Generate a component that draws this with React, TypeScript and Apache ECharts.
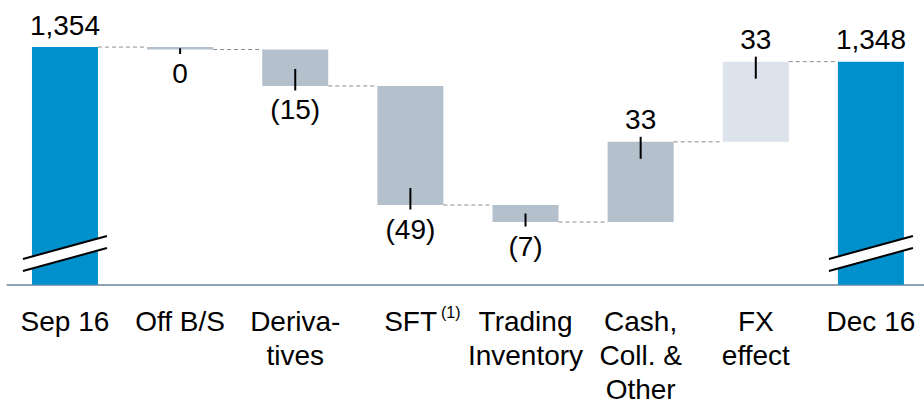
import React, { useEffect, useRef } from 'react';
import * as echarts from 'echarts';

const categories = [
  'Sep 16',
  'Off B/S',
  'Deriva-\ntives',
  'SFT',
  'Trading\nInventory',
  'Cash,\nColl. &\nOther',
  'FX\neffect',
  'Dec 16',
];
const valueLabels = ['1,354', '0', '(15)', '(49)', '(7)', '33', '33', '1,348'];
const startTotal = 1354;
const deltas = [-1, -15, -49, -7, 33, 33];
const endTotal = 1348;
const barColors = ['#0091cd', '#b4c0cc', '#b4c0cc', '#b4c0cc', '#b4c0cc', '#b4c0cc', '#dce3ec', '#0091cd'];

const Y_MIN = 1256.2;
const Y_MAX = 1360;
const BAR_W = 66;
const FONT = "'Liberation Sans', Arial, sans-serif";

const bottoms: number[] = [0];
const tops: number[] = [startTotal];
const levels: number[] = [startTotal];
{
  let run = startTotal;
  deltas.forEach((d) => {
    const next = run + d;
    bottoms.push(Math.min(run, next));
    tops.push(Math.max(run, next));
    levels.push(next);
    run = next;
  });
  bottoms.push(0);
  tops.push(endTotal);
  levels.push(endTotal);
}

export default function App() {
  const ref = useRef<HTMLDivElement>(null);
  useEffect(() => {
    if (!ref.current) return;
    const chart = echarts.init(ref.current, undefined, { renderer: 'svg' });
    const n = categories.length;
    const half = BAR_W / 2;
    const option: any = {
      animation: false,
      grid: { left: 7.4, top: 32.5, width: 921.1, height: 252.2, containLabel: false, outerBoundsMode: 'none' },
      xAxis: {
        type: 'category',
        data: categories,
        axisTick: { show: false },
        axisLine: { lineStyle: { color: '#8fa1b4', width: 2 } },
        axisLabel: {
          interval: 0,
          margin: 20,
          fontSize: 28,
          lineHeight: 34,
          color: '#000',
          fontFamily: FONT,
          formatter: (v: string) => (v === 'SFT' ? '{pad|\u00a0}SFT{sup|(1)}' : v),
          rich: {
            pad: { width: 24, fontSize: 16, lineHeight: 26 },
            sup: { fontSize: 16, lineHeight: 26, verticalAlign: 'top', padding: [0, 0, 0, 4], color: '#000', fontFamily: FONT },
          },
        },
      },
      yAxis: { type: 'value', min: Y_MIN, max: Y_MAX, show: false, splitLine: { show: false } },
      series: [
        {
          type: 'bar',
          stack: 'wf',
          barWidth: BAR_W,
          itemStyle: { color: 'rgba(0,0,0,0)' },
          silent: true,
          data: bottoms,
        },
        {
          type: 'bar',
          stack: 'wf',
          barWidth: BAR_W,
          data: tops.map((t, i) => {
            const positive = i === 0 || i === n - 1 || deltas[i - 1] > 0;
            return {
              value: t - bottoms[i],
              itemStyle: { color: barColors[i] },
              label: { position: positive ? 'top' : 'bottom', distance: positive ? 8 : 10 },
            };
          }),
          label: {
            show: true,
            fontSize: 28,
            color: '#000',
            fontFamily: FONT,
            formatter: (p: any) => valueLabels[p.dataIndex],
          },
        },
        {
          type: 'custom',
          clip: false,
          z: 10,
          encode: { x: 0, y: 1 },
          data: categories.map((_, i) => [i, tops[i]]),
          renderItem: (params: any, api: any) => {
            const i = params.dataIndex;
            const [cx, yTop] = api.coord([i, tops[i]]);
            const yAxis = api.coord([i, Y_MIN])[1];
            const yBot = i === 0 || i === n - 1 ? yAxis : api.coord([i, bottoms[i]])[1];
            const children: any[] = [];
            if (i < n - 1) {
              const yl = api.coord([i, levels[i]])[1];
              const nx = api.coord([i + 1, levels[i]])[0];
              children.push({
                type: 'line',
                shape: { x1: cx + half, y1: yl, x2: nx - half, y2: yl },
                style: { stroke: '#8c8c8c', lineWidth: 1, lineDash: [4, 3] },
              });
            }
            if (i > 0 && i < n - 1) {
              const mid = (yTop + yBot) / 2;
              if (deltas[i - 1] > 0) {
                children.push({
                  type: 'line',
                  shape: { x1: cx, y1: yTop - 5, x2: cx, y2: Math.min(yTop + 17, mid) },
                  style: { stroke: '#000', lineWidth: 2 },
                });
              } else {
                children.push({
                  type: 'line',
                  shape: { x1: cx, y1: yBot + 4.5, x2: cx, y2: Math.max(yBot - 17, mid) },
                  style: { stroke: '#000', lineWidth: 2 },
                });
              }
            } else {
              const xl = cx - 42;
              const xr = cx + 42;
              children.push({
                type: 'polygon',
                shape: {
                  points: [
                    [xl, yAxis - 25.7],
                    [xr, yAxis - 48.7],
                    [xr, yAxis - 36.7],
                    [xl, yAxis - 13.7],
                  ],
                },
                style: { fill: '#fff' },
              });
              children.push({
                type: 'line',
                shape: { x1: xl, y1: yAxis - 25.7, x2: xr, y2: yAxis - 48.7 },
                style: { stroke: '#000', lineWidth: 2 },
              });
              children.push({
                type: 'line',
                shape: { x1: xl, y1: yAxis - 13.7, x2: xr, y2: yAxis - 36.7 },
                style: { stroke: '#000', lineWidth: 2 },
              });
            }
            return { type: 'group', children };
          },
        },
      ],
    };
    chart.setOption(option);
    return () => chart.dispose();
  }, []);
  return (
    <div
      ref={ref}
      style={{ position: 'absolute', left: 0, top: 0, width: 924, height: 401, background: '#fff' }}
    />
  );
}
